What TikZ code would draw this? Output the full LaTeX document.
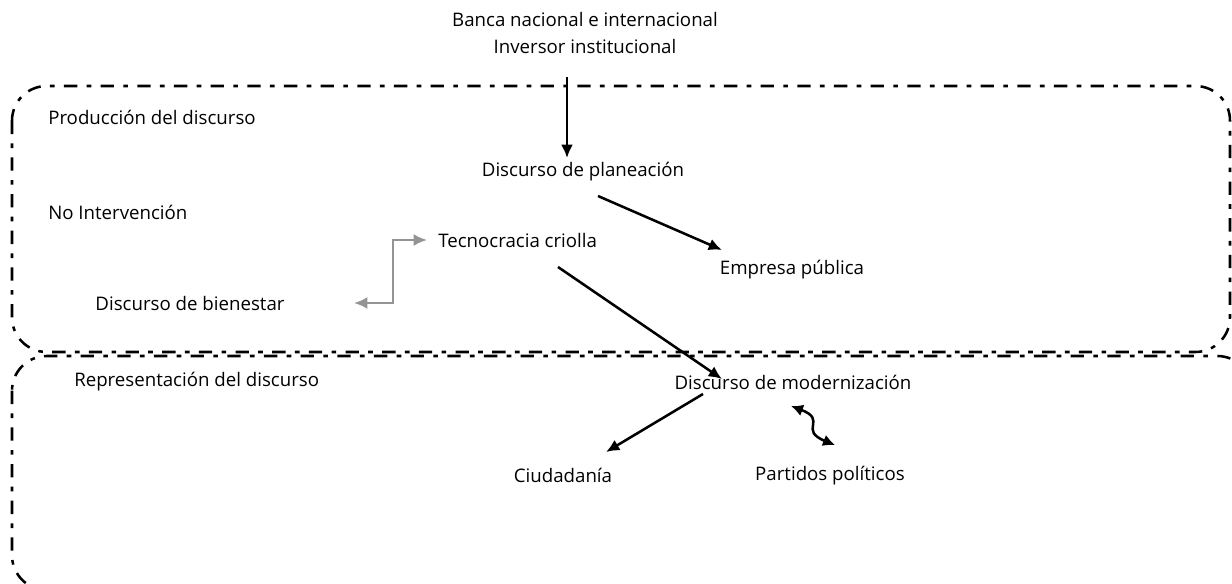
\documentclass[tikz,border=0pt]{standalone}
\usepackage{fontspec}
\setmainfont{Open Sans}
\usetikzlibrary{arrows.meta}
\begin{document}
\begin{tikzpicture}[x=0.75pt,y=-0.75pt,
  lbl/.style={inner sep=0pt,font=\fontsize{14}{20}\selectfont},
  region/.style={draw=black,line width=1.9pt,rounded corners=26pt,
    dash pattern=on 10pt off 7pt on 3.5pt off 7pt},
  arr/.style={line width=1.9pt,-{Latex[length=10pt,width=9pt]}},
  garr/.style={draw=black!42,line width=1.8pt,{Latex[length=10pt,width=9pt]}-{Latex[length=10pt,width=9pt]}}]
\useasboundingbox (0,0) rectangle (1232,583);
% regions
\draw[region] (12,86) rectangle (1230,352);
\draw[region] (12,356) rectangle (1252,590);
% labels
\node[lbl,align=center] (banca) at (585,33) {Banca nacional e internacional\\Inversor institucional};
\node[lbl,anchor=west] (prod) at (48,117) {Producción del discurso};
\node[lbl,anchor=west] (noint) at (48,212) {No Intervención};
\node[lbl] (plan) at (583,172) {Discurso de planeación};
\node[lbl] (empresa) at (792,270) {Empresa pública};
\node[lbl,anchor=west] (tecno) at (438,240) {Tecnocracia criolla};
\node[lbl] (bien) at (190,303) {Discurso de bienestar};
\node[lbl,anchor=west] (repr) at (74,382) {Representación del discurso};
\node[lbl] (modern) at (793,382) {Discurso de modernización};
\node[lbl] (ciud) at (563,475) {Ciudadanía};
\node[lbl] (part) at (830,476) {Partidos políticos};
% connector ends
\coordinate (a1) at (567,77);
\coordinate (a2) at (567,158);
\coordinate (b1) at (598,196);
\coordinate (b2) at (722,250);
\coordinate (c1) at (558,267);
\coordinate (c2) at (722,379);
\coordinate (d1) at (703,394);
\coordinate (d2) at (606,452);
\coordinate (g1) at (427,240);
\coordinate (g2) at (354,303);
\coordinate (w1) at (791,406);
\coordinate (w2) at (835,445);
% connectors
\draw[arr] (a1) -- (a2);
\draw[arr] (b1) -- (b2);
\draw[arr] (c1) -- (c2);
\draw[arr] (d1) -- (d2);
\draw[garr] (g1) -- (393,240) -- (393,303) -- (g2);
\draw[line width=1.9pt,{Latex[length=9pt,width=9pt]}-{Latex[length=9pt,width=9pt]}]
  (w1) .. controls (828,420) and (798,430) .. (w2);
\end{tikzpicture}
\end{document}
